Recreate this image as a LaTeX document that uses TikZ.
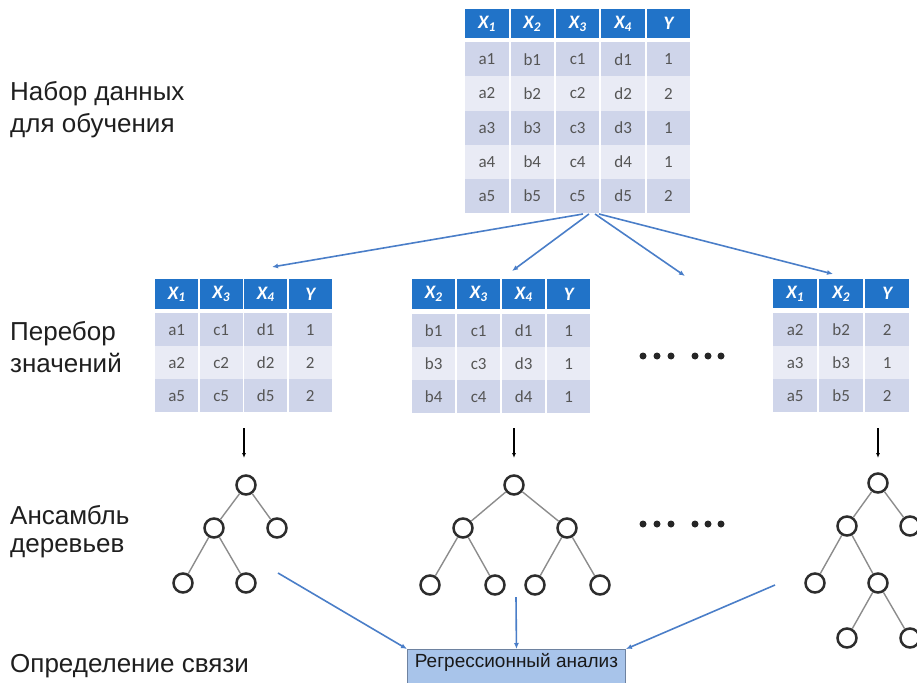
\documentclass[tikz,border=0pt]{standalone}
\usepackage{fontspec}
\setmainfont{Liberation Sans}
\newfontfamily\carlito{Carlito}
\usetikzlibrary{arrows.meta}
\definecolor{hblue}{RGB}{33,115,200}
\definecolor{rowA}{RGB}{207,213,234}
\definecolor{rowB}{RGB}{233,235,245}
\definecolor{lblue}{RGB}{74,126,200}
\definecolor{boxfill}{RGB}{168,196,234}
\definecolor{boxdraw}{RGB}{110,130,160}
\definecolor{celltext}{RGB}{85,85,85}
\definecolor{treedraw}{RGB}{45,45,45}
\definecolor{treeedge}{RGB}{140,140,140}
\newcommand\Xs[1]{X\textsubscript{#1}}
\newcommand\rowh{33}
\newcommand\mktable[9]{%
  \foreach \h [count=\ci] in {#8} {%
    \node[hdr, minimum width=#5pt, minimum height=#6pt] (#1-h\ci) at ({#2+(\ci-1)*#4}, #3) {\h};
  }%
  \foreach \rw [count=\ri] in {#9} {%
    \ifodd\ri \def\rf{rowA}\else\def\rf{rowB}\fi
    \foreach \cl [count=\ci] in \rw {%
      \node[cell, fill=\rf, minimum width=#5pt, minimum height=\rowh pt] (#1-\ri-\ci) at ({#2+(\ci-1)*#4}, {#7+(\ri-1)*\rowh}) {\cl};
    }%
  }%
}
\begin{document}
\begin{tikzpicture}[x=1pt,y=-1pt,
  hdr/.style={fill=hblue, text=white, inner sep=0pt, anchor=north west,
    font=\carlito\bfseries\itshape\fontsize{19}{19}\selectfont},
  cell/.style={text=celltext, inner sep=0pt, anchor=north west,
    font=\carlito\fontsize{17}{17}\selectfont},
  lbl/.style={anchor=base west, inner sep=0pt, text=black!88,
    font=\fontsize{26}{30}\selectfont},
  tn/.style={circle, draw=treedraw, line width=2.5pt, fill=white, minimum size=19pt, inner sep=0pt},
  te/.style={draw=treeedge, line width=1.4pt},
  barrow/.style={draw=lblue, line width=1.6pt, -{Latex[length=6pt,width=5pt]}},
  karrow/.style={draw=black, line width=1.1pt, -{Latex[length=5pt,width=4pt]}},
  dot/.style={circle, fill=black!85, minimum size=7pt, inner sep=0pt}
]
\useasboundingbox (0,0) rectangle (917,682);
\clip (0,0) rectangle (917,682);

% labels
\node[lbl] (l1a) at (10,100) {Набор данных};
\node[lbl] (l1b) at (10,132) {для обучения};
\node[lbl] (l2a) at (10,340) {Перебор};
\node[lbl] (l2b) at (10,372) {значений};
\node[lbl] (l3a) at (10,524) {Ансамбль};
\node[lbl] (l3b) at (10,552) {деревьев};
\node[lbl] (l4) at (10,672) {Определение связи};

% tables
\renewcommand\rowh{34.2}
\mktable{T}{465}{9}{45.4}{43.4}{29}{42}{\Xs{1},\Xs{2},\Xs{3},\Xs{4},Y}{{a1,b1,c1,d1,1},{a2,b2,c2,d2,2},{a3,b3,c3,d3,1},{a4,b4,c4,d4,1},{a5,b5,c5,d5,2}}
\renewcommand\rowh{33}
\mktable{A}{155}{279}{44.5}{43}{30}{313}{\Xs{1},\Xs{3},\Xs{4},Y}{{a1,c1,d1,1},{a2,c2,d2,2},{a5,c5,d5,2}}
\mktable{B}{412}{279}{45}{43}{30}{314}{\Xs{2},\Xs{3},\Xs{4},Y}{{b1,c1,d1,1},{b3,c3,d3,1},{b4,c4,d4,1}}
\mktable{C}{773}{279}{46}{44}{29}{313}{\Xs{1},\Xs{2},Y}{{a2,b2,2},{a3,b3,1},{a5,b5,2}}

% arrows from top table
\coordinate (s1) at (583,214);
\coordinate (s2) at (589,214);
\coordinate (s3) at (595,214);
\coordinate (s4) at (599,214);
\coordinate (e1) at (272,267);
\coordinate (e2) at (512,271);
\coordinate (e3) at (685,276);
\coordinate (e4) at (833,274);
\draw[barrow] (s1) -- (e1);
\draw[barrow] (s2) -- (e2);
\draw[barrow] (s3) -- (e3);
\draw[barrow] (s4) -- (e4);

% dots
\foreach \x [count=\i] in {643,657,671,695,708,721} {
  \node[dot] (da\i) at (\x,356) {};
  \node[dot] (db\i) at (\x,524) {};
}

% black arrows
\coordinate (ka1) at (244,428); \coordinate (kb1) at (244,458);
\coordinate (ka2) at (514,428); \coordinate (kb2) at (514,458);
\coordinate (ka3) at (878,428); \coordinate (kb3) at (878,458);
\draw[karrow] (ka1) -- (kb1);
\draw[karrow] (ka2) -- (kb2);
\draw[karrow] (ka3) -- (kb3);

% left tree
\node[tn] (L0) at (246,485) {};
\node[tn] (L1) at (214,528) {};
\node[tn] (L2) at (277,528) {};
\node[tn] (L3) at (183,583) {};
\node[tn] (L4) at (246,583) {};
\draw[te] (L0) -- (L1); \draw[te] (L0) -- (L2);
\draw[te] (L1) -- (L3); \draw[te] (L1) -- (L4);

% middle tree
\node[tn] (M0) at (514,485) {};
\node[tn] (M1) at (463,528) {};
\node[tn] (M2) at (567,528) {};
\node[tn] (M3) at (430,585) {};
\node[tn] (M4) at (495,585) {};
\node[tn] (M5) at (535,585) {};
\node[tn] (M6) at (600,585) {};
\draw[te] (M0) -- (M1); \draw[te] (M0) -- (M2);
\draw[te] (M1) -- (M3); \draw[te] (M1) -- (M4);
\draw[te] (M2) -- (M5); \draw[te] (M2) -- (M6);

% right tree
\node[tn] (R0) at (878,483) {};
\node[tn] (R1) at (847,526) {};
\node[tn] (R2) at (910,526) {};
\node[tn] (R3) at (815,583) {};
\node[tn] (R4) at (878,583) {};
\node[tn] (R5) at (847,638) {};
\node[tn] (R6) at (910,638) {};
\draw[te] (R0) -- (R1); \draw[te] (R0) -- (R2);
\draw[te] (R1) -- (R3); \draw[te] (R1) -- (R4);
\draw[te] (R4) -- (R5); \draw[te] (R4) -- (R6);

% regression box
\node[fill=boxfill, draw=boxdraw, line width=0.9pt, anchor=north west, inner xsep=0pt, inner ysep=0pt,
  minimum width=218pt, text height=18pt, text depth=22pt, text=black!90,
  font=\fontsize{19}{19}\selectfont] (Reg) at (407,649) {Регрессионный анализ};

\coordinate (b1) at (278,573);
\coordinate (b2) at (516,597);
\coordinate (b3) at (775,585);
\draw[barrow] (b1) -- (Reg.north west);
\draw[barrow] (b2) -- (Reg.north);
\draw[barrow] (b3) -- (Reg.north east);
\end{tikzpicture}
\end{document}
